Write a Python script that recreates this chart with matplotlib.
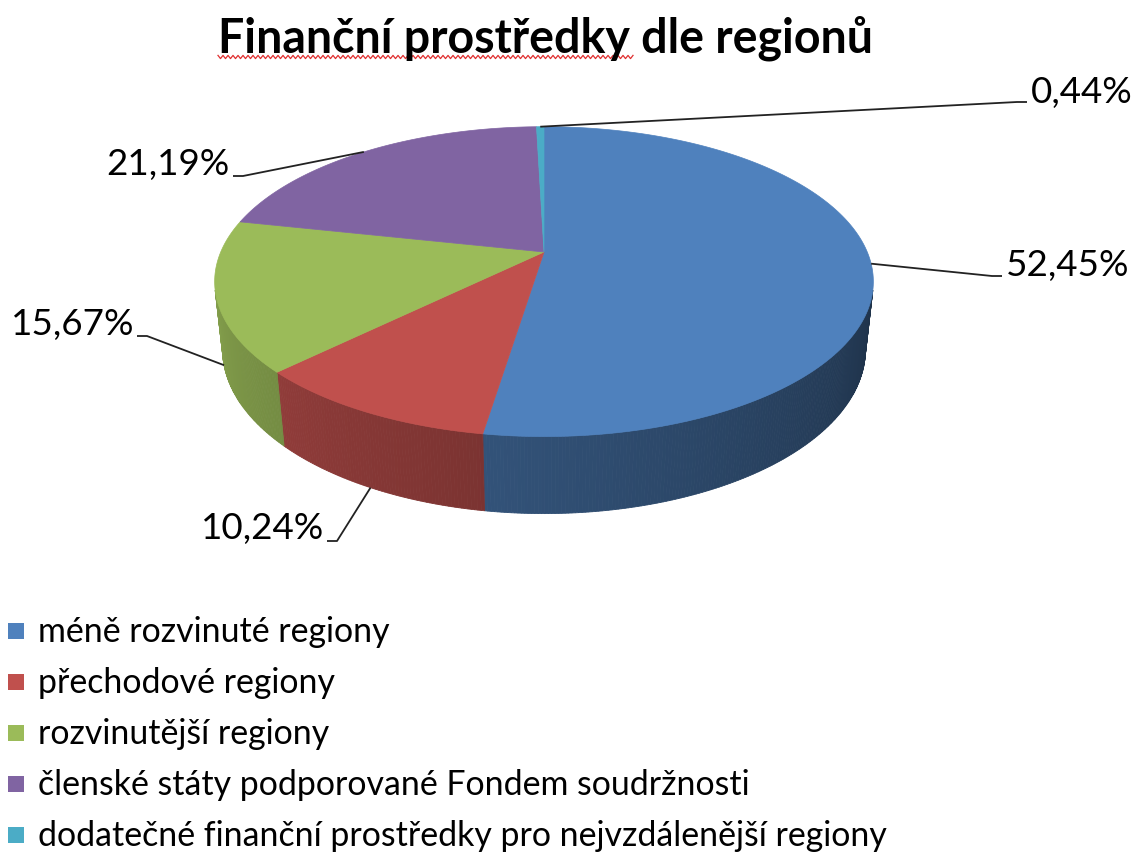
import numpy as np
import matplotlib.pyplot as plt
from matplotlib.patches import Polygon, Rectangle
from matplotlib.colors import to_rgb

plt.rcParams['font.family'] = ['Lato', 'DejaVu Sans']

# Data
categories = ['méně rozvinuté regiony',
              'přechodové regiony',
              'rozvinutější regiony',
              'členské státy podporované Fondem soudržnosti',
              'dodatečné finanční prostředky pro nejvzdálenější regiony']
shares = [52.45, 10.24, 15.67, 21.19, 0.44]
share_labels = ['52,45%', '10,24%', '15,67%', '21,19%', '0,44%']
colors = ['#4f81bd', '#c0504d', '#9bbb59', '#8064a2', '#4bacc6']
title = 'Finanční prostředky dle regionů'

# 3D view of the pie (perspective camera)
ELEV = np.radians(27.5)
DIST = 4.64      # camera distance in pie radii
THICK = 0.239    # pie height in pie radii
CX, CY = 544, 253
SCALE = 1500


def project(theta, z):
    ''' project a point on the pie rim (theta clockwise from back, degrees) '''
    t = np.radians(theta)
    x, y = np.sin(t), np.cos(t)
    s, c = np.sin(ELEV), np.cos(ELEV)
    depth = DIST + y * c - z * s
    return CX + SCALE * x / depth, CY - SCALE * (y * s + z * c) / depth


def shade(color, theta):
    # darker to the right, lighter to the left
    m = 0.39 + 0.45 * (theta - 104) / 152
    return tuple(np.clip(np.array(to_rgb(color)) * m, 0, 1))


fig = plt.figure(figsize=(11.37, 8.53), dpi=100)
ax = fig.add_axes([0, 0, 1, 1])
ax.set_xlim(0, 1137)
ax.set_ylim(853, 0)
ax.axis('off')

edges = np.concatenate([[0], np.cumsum(shares)]) / sum(shares) * 360
# part of the outer wall that faces the camera
lim = np.degrees(np.arccos(-1 / (DIST * np.cos(ELEV))))
vis0, vis1 = lim, 360 - lim

# walls
for i, col in enumerate(colors):
    a0, a1 = max(edges[i], vis0), min(edges[i + 1], vis1)
    if a1 <= a0:
        continue
    th = np.linspace(a0, a1, int((a1 - a0) / 0.5) + 2)
    for t0, t1 in zip(th[:-1], th[1:]):
        pts = [project(t0, 0), project(t1, 0), project(t1, -THICK), project(t0, -THICK)]
        fc = shade(col, (t0 + t1) / 2)
        ax.add_patch(Polygon(pts, closed=True, facecolor=fc, edgecolor=fc, lw=0.6))

# top faces
for i, col in enumerate(colors):
    th = np.linspace(edges[i], edges[i + 1], max(int(edges[i + 1] - edges[i]), 2) + 1)
    pts = [(CX, CY)] + [project(t, 0) for t in th]
    ax.add_patch(Polygon(pts, closed=True, facecolor=col, edgecolor=col, lw=0.5))

# data labels with leader lines
label_end = [(1002, 277), (327, 542), (137, 337), (233, 177), (1027, 103)]
label_side = ['right', 'left', 'left', 'left', 'right']
label_yoff = [-12, -13, -13, -13, -11]
for i, txt in enumerate(share_labels):
    mid = (edges[i] + edges[i + 1]) / 2
    on_wall = np.cos(np.radians(mid)) < -1 / (DIST * np.cos(ELEV))
    ax0, ay0 = project(mid, -THICK if on_wall else 0)
    ex, ey = label_end[i]
    elbow = ex + (10 if label_side[i] == 'left' else -10)
    ax.plot([ax0, elbow, ex], [ay0, ey, ey], color='#222222', lw=1.3, solid_capstyle='butt')
    if label_side[i] == 'left':
        ax.text(ex - 3, ey + label_yoff[i], txt, ha='right', va='center', fontsize=26.5, color='#000000')
    else:
        ax.text(ex + 4, ey + label_yoff[i], txt, ha='left', va='center', fontsize=26.5, color='#000000')

# title
ax.text(545, 38, title, ha='center', va='center', fontsize=33.5, fontweight='bold', color='#000000')
wx = np.arange(218, 634, 2.5)
wy = 58 + 1.6 * np.where(np.arange(len(wx)) % 2 == 0, -1, 1)
ax.plot(wx, wy, color='#e03030', lw=0.9)

# legend
for i, (name, col) in enumerate(zip(categories, colors)):
    y = 632 + i * 51
    ax.add_patch(Rectangle((8, y - 8), 16, 16, facecolor=col, edgecolor='none'))
    ax.text(38, y, name, ha='left', va='center', fontsize=24.4, color='#000000')

fig.savefig('out.png', dpi=100)
